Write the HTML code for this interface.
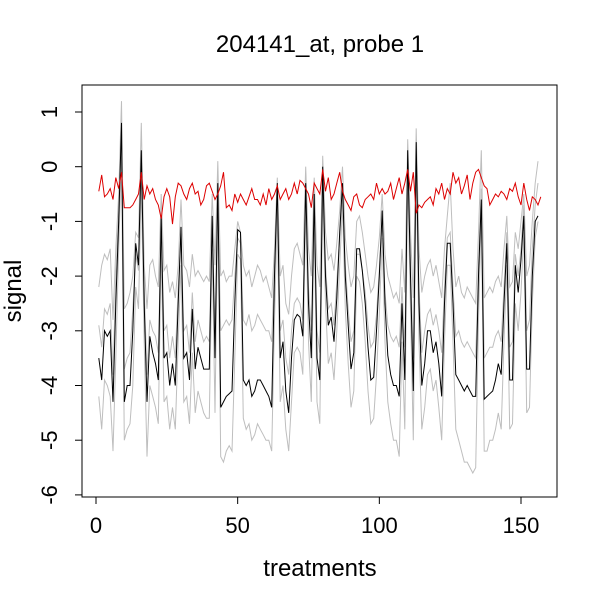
<!DOCTYPE html>
<html><head><meta charset="utf-8"><style>
body{margin:0;background:#fff}
text{font-family:"Liberation Sans",sans-serif}
</style></head><body>
<svg id="chart" width="600" height="600" xmlns="http://www.w3.org/2000/svg">
<rect width="600" height="600" fill="#fff"/>
<text x="320" y="52" font-size="24" text-anchor="middle">204141_at, probe 1</text>
<text x="320" y="576" font-size="24" text-anchor="middle">treatments</text>
<text transform="translate(21,291) rotate(-90)" font-size="24" text-anchor="middle">signal</text>
<g id="series"></g>
<g id="axes"></g>
<rect x="82" y="85" width="475" height="412" fill="none" stroke="#000" stroke-width="1"/>
</svg>
<script>
const xTicks=[0,50,100,150];
const yTicks=[1,0,-1,-2,-3,-4,-5,-6];
const blackSeries=[-3.5,-3.9,-3.0,-3.1,-3.0,-4.3,-2.5,-1.0,0.8,-4.3,-4.0,-4.0,-3.0,-1.4,-1.8,0.3,-2.5,-4.3,-3.1,-3.4,-3.6,-3.9,-0.9,-3.5,-3.4,-4.0,-3.6,-4.0,-2.5,-1.1,-3.5,-3.4,-3.9,-2.6,-3.7,-3.3,-3.5,-3.7,-3.7,-3.7,-0.9,-3.5,-0.3,-4.4,-4.3,-4.2,-4.15,-4.1,-2.5,-1.15,-1.2,-3.9,-4.0,-3.9,-4.2,-4.1,-3.9,-3.9,-4.0,-4.1,-4.2,-4.4,-2.0,-0.3,-3.5,-3.2,-4.1,-4.5,-3.5,-2.8,-2.7,-2.75,-3.1,-0.3,-2.5,-3.5,-0.5,-3.5,-3.9,0.0,-2.0,-2.9,-2.75,-3.2,-2.4,-1.2,-0.3,-2.0,-2.9,-3.7,-3.4,-1.5,-1.5,-1.9,-2.5,-3.3,-3.9,-3.85,-3.0,-2.0,-0.8,-2.5,-3.45,-3.8,-4.0,-4.0,-4.2,-2.5,-3.9,0.3,-2.0,-4.1,0.45,-2.5,-4.0,-3.6,-3.0,-3.0,-3.4,-3.2,-3.6,-4.2,-2.5,-1.4,-1.4,-2.5,-3.8,-3.9,-4.0,-4.1,-4.0,-4.1,-4.2,-4.2,-2.0,-0.6,-4.25,-4.2,-4.15,-4.1,-3.9,-3.6,-3.8,-2.5,-1.4,-3.9,-3.9,-1.8,-2.3,-1.7,-0.9,-3.7,-3.7,-2.0,-1.0,-0.9];
const redSeries=[-0.45,-0.15,-0.55,-0.5,-0.4,-0.6,-0.2,-0.4,-0.1,-0.75,-0.75,-0.75,-0.7,-0.6,-0.5,-0.1,-0.6,-0.35,-0.5,-0.4,-0.6,-0.7,-0.95,-0.55,-0.4,-0.55,-1.05,-0.55,-0.3,-0.35,-0.5,-0.6,-0.4,-0.3,-0.5,-0.45,-0.7,-0.6,-0.35,-0.3,-0.45,-0.6,-0.5,-0.35,-0.1,-0.75,-0.7,-0.8,-0.5,-0.65,-0.5,-0.6,-0.7,-0.55,-0.4,-0.6,-0.6,-0.7,-0.5,-0.7,-0.4,-0.6,-0.5,-0.35,-0.6,-0.5,-0.4,-0.6,-0.5,-0.3,-0.5,-0.25,-0.3,-0.4,-0.5,-0.75,-0.3,-0.4,-0.5,-0.05,-0.45,-0.2,-0.6,-0.5,-0.3,-0.1,-0.45,-0.6,-0.7,-0.8,-0.55,-0.5,-0.7,-0.75,-0.6,-0.55,-0.5,-0.6,-0.3,-0.5,-0.4,-0.5,-0.45,-0.3,-0.6,-0.4,-0.2,-0.5,-0.3,-0.05,-0.45,-0.1,-0.85,-0.7,-0.75,-0.65,-0.6,-0.55,-0.7,-0.4,-0.5,-0.3,-0.6,-0.4,-0.5,-0.1,-0.3,-0.2,-0.5,-0.35,-0.15,-0.6,-0.3,-0.1,-0.05,-0.2,-0.35,-0.4,-0.7,-0.6,-0.5,-0.55,-0.45,-0.5,-0.6,-0.4,-0.45,-0.3,-0.55,-0.7,-0.3,-0.6,-0.8,-0.55,-0.6,-0.7,-0.55];
const grayHigh=[-2.2,-1.8,-1.6,-1.7,-1.5,-2.8,-1.5,-0.5,1.2,-2.6,-2.5,-2.3,-2.0,-1.2,-1.3,0.8,-1.8,-2.6,-1.8,-1.7,-2.0,-2.2,-0.5,-1.9,-1.8,-2.3,-2.1,-2.4,-1.8,-0.6,-1.8,-1.9,-2.2,-1.6,-2.0,-1.9,-2.0,-2.1,-2.0,-2.1,-0.5,-1.8,0.1,-2.0,-1.9,-2.1,-2.0,-2.0,-1.5,-1.0,-1.2,-1.8,-2.0,-1.9,-2.2,-2.0,-1.8,-1.9,-2.1,-2.0,-2.2,-2.4,-1.5,-0.2,-2.0,-1.8,-2.5,-2.7,-2.0,-1.5,-1.4,-1.6,-1.8,0.0,-1.5,-2.0,-0.2,-1.8,-2.2,0.2,-1.2,-1.7,-1.6,-1.9,-1.4,-0.8,0.0,-1.3,-1.8,-2.2,-2.0,-1.0,-0.9,-1.2,-1.6,-2.0,-2.3,-2.2,-1.8,-1.3,-0.5,-1.6,-2.0,-2.2,-2.4,-2.3,-2.5,-1.5,-2.3,0.5,-1.2,-2.4,0.7,-1.5,-2.3,-2.0,-1.8,-1.7,-2.0,-1.8,-2.1,-2.4,-1.5,-0.9,-0.3,-1.5,-2.2,-2.0,-2.3,-2.4,-2.2,-2.3,-2.4,-2.5,-1.2,0.3,-2.4,-2.3,-2.2,-2.3,-2.1,-2.0,-2.2,-1.5,-0.9,-2.2,-2.1,-1.2,-1.5,-1.0,-0.5,-2.0,-1.8,-1.0,-0.3,0.1];
const grayMid=[-2.9,-3.3,-2.6,-2.7,-2.5,-3.8,-2.0,-0.8,0.5,-3.7,-3.5,-3.4,-2.6,-1.6,-1.9,0.0,-2.2,-3.8,-2.8,-3.0,-3.1,-3.4,-1.1,-3.0,-2.9,-3.5,-3.1,-3.5,-2.2,-1.3,-3.0,-2.9,-3.4,-2.3,-3.2,-2.8,-3.0,-3.2,-3.1,-3.2,-1.0,-3.0,-0.6,-3.0,-2.9,-2.8,-2.9,-2.8,-2.0,-1.3,-1.4,-2.8,-2.9,-2.7,-3.0,-2.9,-2.7,-2.8,-2.9,-3.0,-3.0,-3.2,-1.8,-0.5,-3.0,-2.8,-3.5,-3.8,-3.0,-2.5,-2.4,-2.5,-2.8,-0.5,-2.2,-3.0,-0.7,-3.0,-3.4,-0.2,-1.8,-2.6,-2.5,-2.9,-2.1,-1.3,-0.5,-1.8,-2.6,-3.2,-3.0,-1.6,-1.6,-1.9,-2.3,-2.9,-3.3,-3.2,-2.7,-1.9,-1.0,-2.3,-2.9,-3.1,-3.2,-3.1,-3.3,-2.2,-3.3,0.0,-1.8,-3.5,0.2,-2.2,-3.4,-3.0,-2.7,-2.6,-2.9,-2.7,-3.0,-3.4,-2.2,-1.3,-1.2,-2.2,-3.1,-3.0,-3.2,-3.3,-3.2,-3.3,-3.4,-3.5,-1.8,-0.4,-3.5,-3.4,-3.3,-3.3,-3.1,-3.0,-3.2,-2.2,-1.2,-3.3,-3.2,-1.6,-2.0,-1.5,-0.7,-3.0,-2.8,-1.5,-0.7,-0.3];
const grayLow=[-4.2,-4.8,-3.9,-4.0,-4.2,-5.2,-3.5,-1.5,0.2,-5.0,-4.8,-4.7,-4.0,-2.2,-2.6,-0.3,-3.2,-5.3,-4.0,-4.2,-4.4,-4.7,-1.5,-4.3,-4.2,-4.8,-4.4,-4.8,-3.2,-1.8,-4.3,-4.2,-4.7,-3.4,-4.5,-4.1,-4.3,-4.5,-4.6,-4.6,-1.5,-4.5,-0.8,-5.3,-5.4,-5.2,-5.1,-5.2,-3.5,-1.6,-1.7,-4.6,-4.8,-4.7,-5.0,-4.9,-4.7,-4.8,-4.9,-5.0,-5.0,-5.2,-2.8,-0.8,-4.3,-4.0,-4.8,-5.2,-4.3,-3.4,-3.3,-3.4,-3.8,-0.7,-3.2,-4.3,-1.0,-4.3,-4.7,-0.4,-2.5,-3.6,-3.4,-3.9,-3.0,-1.8,-0.7,-2.6,-3.6,-4.4,-4.1,-2.0,-2.1,-2.5,-3.2,-4.1,-4.7,-4.6,-3.8,-2.7,-1.3,-3.2,-4.3,-4.7,-5.0,-5.0,-5.3,-3.2,-4.8,-0.2,-2.6,-5.0,0.0,-3.2,-4.8,-4.4,-3.8,-3.7,-4.1,-3.9,-4.4,-5.0,-3.2,-1.8,-1.8,-3.2,-4.8,-5.0,-5.2,-5.4,-5.4,-5.5,-5.6,-5.5,-2.8,-0.8,-5.2,-5.2,-5.0,-5.0,-4.8,-4.5,-4.8,-3.2,-1.8,-4.8,-4.7,-2.5,-3.0,-2.3,-1.2,-4.5,-4.4,-2.5,-1.3,-1.0];

const NS='http://www.w3.org/2000/svg';
function xs(v){return 96+v*(521-96)/150;}
function ys(v){return 166.7-v*54.7;}
const series=document.getElementById('series');
function line(arr,color,w,name){
  const p=document.createElementNS(NS,'polyline');
  p.setAttribute('points',arr.map((v,i)=>xs(i+1).toFixed(1)+','+ys(v).toFixed(1)).join(' '));
  p.setAttribute('fill','none');p.setAttribute('stroke',color);p.setAttribute('stroke-width',w);
  
  
  series.appendChild(p);
}
line(grayHigh,'#bebebe',1,'gray-line-high');
line(grayMid,'#bebebe',1,'gray-line-mid');
line(grayLow,'#bebebe',1,'gray-line-low');
line(blackSeries,'#000',1,'probe-line');
line(redSeries,'#dd0000',1,'mean-line');
const axes=document.getElementById('axes');
xTicks.forEach(t=>{
  const l=document.createElementNS(NS,'line');
  l.setAttribute('x1',xs(t));l.setAttribute('x2',xs(t));l.setAttribute('y1',497);l.setAttribute('y2',504);l.setAttribute('stroke','#000');
  
  
  axes.appendChild(l);
  const tx=document.createElementNS(NS,'text');
  tx.setAttribute('x',xs(t));tx.setAttribute('y',533);tx.setAttribute('font-size','22');tx.setAttribute('text-anchor','middle');
  tx.textContent=t;
  
  
  axes.appendChild(tx);
});
yTicks.forEach(t=>{
  const l=document.createElementNS(NS,'line');
  l.setAttribute('x1',75);l.setAttribute('x2',82);l.setAttribute('y1',ys(t));l.setAttribute('y2',ys(t));l.setAttribute('stroke','#000');
  
  
  axes.appendChild(l);
  const tx=document.createElementNS(NS,'text');
  tx.setAttribute('transform','translate(57,'+ys(t)+') rotate(-90)');
  tx.setAttribute('font-size','22');tx.setAttribute('text-anchor','middle');
  tx.textContent=t;
  
  
  axes.appendChild(tx);
});
</script>
</body></html>
